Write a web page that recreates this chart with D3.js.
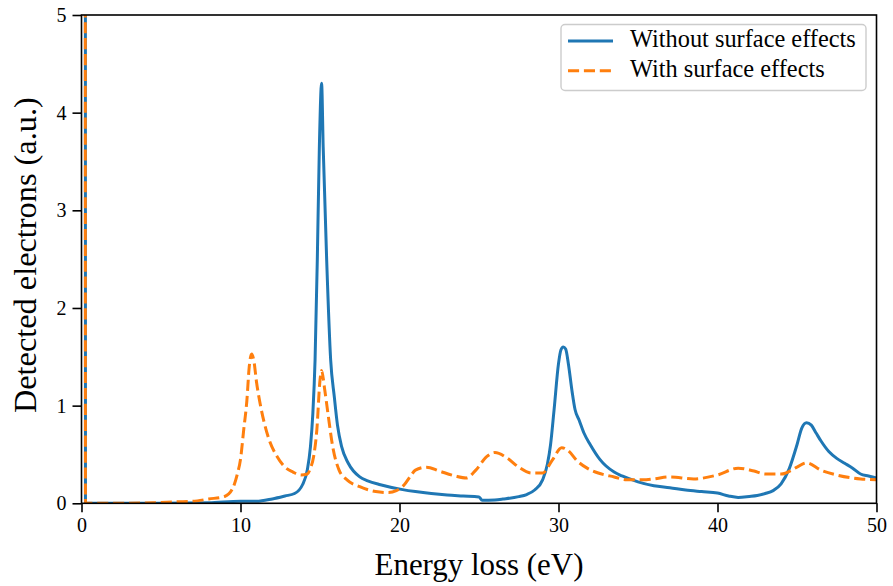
<!DOCTYPE html>
<html>
<head>
<meta charset="utf-8">
<script src="https://cdn.jsdelivr.net/npm/d3@7"></script>
<style>
  html, body { margin: 0; padding: 0; background: #fff; }
  svg { display: block; }
  text { font-family: "Liberation Serif", "DejaVu Serif", serif; fill: #000; }
</style>
</head>
<body>
<svg id="chart" width="893" height="586"></svg>
<script>
// ---- Data ----
const energyWithout = [0.22, 0.25, 2, 5, 8, 10, 11, 12, 12.8, 13.4, 13.9, 14.2, 14.4, 14.55, 14.69, 14.83, 14.96, 15.1, 15.2, 15.42, 15.67, 15.9, 16.1, 16.36, 16.78, 17.5, 18.0, 18.8, 20.2, 21, 22, 23, 24, 25.0, 25.2, 26.0, 26.5, 27.5, 28.0, 28.5, 29, 29.3, 29.5, 29.72, 30.0, 30.15, 30.3, 30.45, 30.62, 30.85, 31.04, 31.3, 31.6, 32.0, 32.6, 33.5, 34, 35, 36, 37, 38, 39, 40, 40.7, 41.3, 42, 42.5, 43, 43.5, 44, 44.5, 45, 45.3, 45.6, 45.9, 46.2, 46.5, 47, 47.5, 48, 48.5, 49, 49.5, 50];
const valuesWithout = [30, 0.0, 0.0, 0.0, 0.005, 0.02, 0.02, 0.045, 0.075, 0.1, 0.19, 0.34, 0.58, 0.92, 1.47, 2.49, 3.65, 4.3, 3.65, 2.49, 1.47, 1.09, 0.8, 0.58, 0.41, 0.27, 0.23, 0.19, 0.14, 0.12, 0.1, 0.085, 0.075, 0.065, 0.03, 0.035, 0.044, 0.068, 0.09, 0.136, 0.24, 0.4, 0.6, 0.955, 1.43, 1.57, 1.6, 1.58, 1.43, 1.15, 0.96, 0.85, 0.72, 0.6, 0.45, 0.32, 0.28, 0.22, 0.18, 0.16, 0.136, 0.12, 0.105, 0.075, 0.06, 0.07, 0.08, 0.1, 0.13, 0.2, 0.35, 0.6, 0.77, 0.825, 0.8, 0.72, 0.64, 0.53, 0.46, 0.41, 0.36, 0.3, 0.28, 0.26];

const energyWith = [0.22, 0.25, 2, 4.5, 6, 7, 8, 9, 9.5, 9.8, 10.0, 10.2, 10.4, 10.55, 10.7, 10.85, 11.0, 11.2, 11.5, 11.8, 12.3, 12.8, 13.3, 13.8, 14.2, 14.4, 14.6, 14.8, 15.0, 15.1, 15.3, 15.5, 15.8, 16.2, 16.7, 17.5, 18.5, 19.3, 19.8, 20.3, 20.7, 21.0, 21.7, 22.5, 23.5, 24.2, 24.8, 25.5, 26.0, 26.8, 27.5, 28.3, 29.0, 29.6, 30.2, 30.6, 31.2, 31.8, 32.5, 33.5, 34.3, 35.3, 36, 37, 38.5, 40, 41.3, 42.3, 43, 44, 45, 45.6, 46.5, 47.5, 49, 50];
const valuesWith = [30, 0.0, 0.0, 0.005, 0.015, 0.02, 0.044, 0.07, 0.15, 0.3, 0.45, 0.75, 1.05, 1.4, 1.53, 1.45, 1.25, 1.05, 0.82, 0.65, 0.48, 0.37, 0.32, 0.29, 0.3, 0.36, 0.48, 0.75, 1.26, 1.36, 1.16, 0.92, 0.58, 0.34, 0.24, 0.17, 0.12, 0.11, 0.13, 0.19, 0.28, 0.34, 0.37, 0.33, 0.28, 0.26, 0.34, 0.48, 0.52, 0.46, 0.37, 0.31, 0.31, 0.44, 0.57, 0.54, 0.43, 0.36, 0.31, 0.27, 0.24, 0.24, 0.25, 0.27, 0.25, 0.29, 0.36, 0.33, 0.3, 0.3, 0.37, 0.415, 0.34, 0.29, 0.25, 0.24];

const seriesNames = ["Without surface effects", "With surface effects"];
const seriesColors = ["#1f77b4", "#ff7f0e"];
const xTicks = [0, 10, 20, 30, 40, 50];
const yTicks = [0, 1, 2, 3, 4, 5];
const xLabel = "Energy loss (eV)";
const yLabel = "Detected electrons (a.u.)";

// ---- Layout ----
const svg = d3.select("#chart");
const mLeft = 81.5, mRight = 876.5, mTop = 15, mBottom = 503.3;
const x = d3.scaleLinear().domain([0, 50]).range([mLeft, mRight]);
const y = d3.scaleLinear().domain([0, 5]).range([mBottom, mTop]);

function fitText(sel, targetWidth, baseSize) {
  sel.style("font-size", baseSize + "px");
  const w = sel.node().getComputedTextLength();
  const fs = baseSize * targetWidth / w;
  sel.style("font-size", fs + "px");
  return fs;
}

svg.append("defs").append("clipPath").attr("id", "clip")
  .append("rect").attr("x", mLeft).attr("y", mTop).attr("width", mRight - mLeft).attr("height", mBottom - mTop);

const plot = svg.append("g").attr("clip-path", "url(#clip)");
const line = d3.line().x(d => x(d[0])).y(d => y(d[1])).curve(d3.curveMonotoneX);

const dataWithout = energyWithout.map((e, i) => [e, valuesWithout[i]]);
const dataWith = energyWith.map((e, i) => [e, valuesWith[i]]);

plot.append("path").datum(dataWithout).attr("d", line)
  .attr("fill", "none").attr("stroke", seriesColors[0]).attr("stroke-width", 3)
  .attr("stroke-linejoin", "round").attr("stroke-linecap", "butt");
plot.append("path").datum(dataWith).attr("d", line)
  .attr("fill", "none").attr("stroke", seriesColors[1]).attr("stroke-width", 3)
  .attr("stroke-dasharray", "11.1,4.8")
  .attr("stroke-linejoin", "round").attr("stroke-linecap", "butt");

// ---- Axes ----
const tickFont = 20;
const xAxis = svg.append("g").attr("transform", `translate(0,${mBottom})`)
  .call(d3.axisBottom(x).tickValues(xTicks).tickFormat(d3.format("d")).tickSize(9).tickPadding(6));
const yAxis = svg.append("g").attr("transform", `translate(${mLeft},0)`)
  .call(d3.axisLeft(y).tickValues(yTicks).tickFormat(d3.format("d")).tickSize(9).tickPadding(6));
[xAxis, yAxis].forEach(a => {
  a.select(".domain").remove();
  a.selectAll(".tick line").attr("stroke", "#000").attr("stroke-width", 1.6);
  a.selectAll(".tick text").attr("fill", "#000")
    .style("font-family", '"Liberation Serif", serif').style("font-size", tickFont + "px");
});

// frame
svg.append("rect").attr("x", mLeft).attr("y", mTop).attr("width", mRight - mLeft).attr("height", mBottom - mTop)
  .attr("fill", "none").attr("stroke", "#000").attr("stroke-width", 1.6);

// axis labels
const xl = svg.append("text").attr("x", (mLeft + mRight) / 2).attr("y", 575)
  .attr("text-anchor", "middle").text(xLabel);
fitText(xl, 209, 26);
const yl = svg.append("text").attr("transform", `translate(36,${(mTop + mBottom) / 2 - 4}) rotate(-90)`)
  .attr("text-anchor", "middle").text(yLabel);
fitText(yl, 316, 26);

// ---- Legend ----
const lg = svg.append("g");
lg.append("rect").attr("x", 561).attr("y", 24.5).attr("width", 305).attr("height", 66)
  .attr("rx", 4).attr("fill", "#fff").attr("fill-opacity", 0.8)
  .attr("stroke", "#cccccc").attr("stroke-width", 1.4);
const legendRows = seriesNames.map((n, i) => ({ name: n, color: seriesColors[i], dash: i === 1 ? "11.1,4.8" : null, yy: 41 + i * 29.7 }));
legendRows.forEach(r => {
  const l = lg.append("line").attr("x1", 568).attr("x2", 613).attr("y1", r.yy).attr("y2", r.yy)
    .attr("stroke", r.color).attr("stroke-width", 3);
  if (r.dash) l.attr("stroke-dasharray", r.dash);
});
const t0 = lg.append("text").attr("x", 630).attr("y", legendRows[0].yy + 6).text(legendRows[0].name);
const lfs = fitText(t0, 226, 19);
lg.append("text").attr("x", 630).attr("y", legendRows[1].yy + 6).style("font-size", lfs + "px").text(legendRows[1].name);
</script>
</body>
</html>
